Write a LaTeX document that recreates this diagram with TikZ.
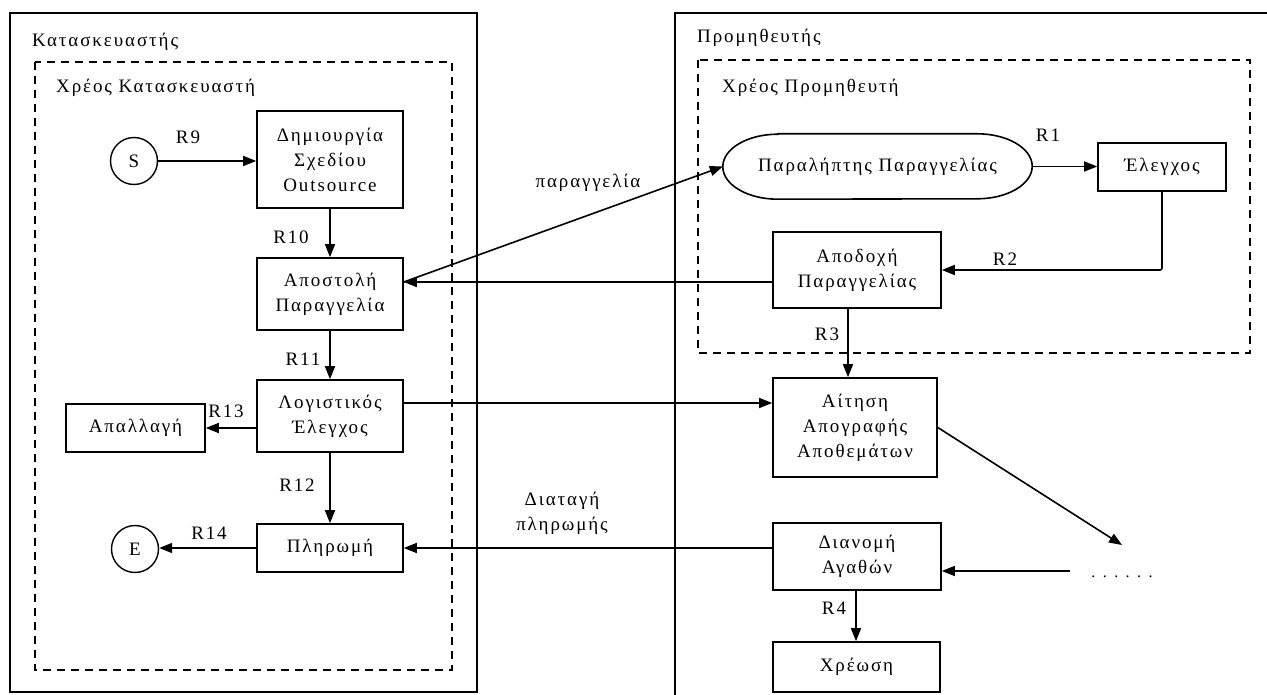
\documentclass[tikz,border=0pt]{standalone}
\usepackage{fontspec}
\setmainfont{Liberation Serif}[LetterSpace=10]
\usetikzlibrary{arrows.meta,calc}
\begin{document}
\begin{tikzpicture}[x=1pt,y=-1pt,
  font=\fontsize{19}{25}\selectfont,
  box/.style={draw,line width=1.6pt,align=center,inner sep=0pt},
  endpt/.style={draw,circle,line width=1.4pt,minimum size=47pt,inner sep=0pt},
  frame/.style={line width=2pt},
  zone/.style={line width=1.7pt,dash pattern=on 8pt off 6pt},
  arr/.style={line width=1.6pt,-{Triangle[length=13pt,width=10pt]}},
  lbl/.style={inner sep=0pt,align=center},
  ttl/.style={inner sep=0pt,anchor=west}]
\useasboundingbox (0,0) rectangle (1267,695);
\clip (0,0) rectangle (1267,695);

% actors and their debt zones
\draw[frame] (10,13) rectangle (477,692);
\draw[frame] (675,13) rectangle (1300,720);
\draw[zone] (35,62) rectangle (452,670);
\draw[zone] (698,60) rectangle (1250,353);
\node[ttl] (manuf) at (32,42) {Κατασκευαστής};
\node[ttl] (manufdebt) at (56,88) {Χρέος Κατασκευαστή};
\node[ttl] (suppl) at (697,38) {Προμηθευτής};
\node[ttl] (suppldebt) at (722,88) {Χρέος Προμηθευτή};

% manufacturer side
\node[endpt] (S) at (134,161) {S};
\node[box,minimum width=146pt,minimum height=97pt] (dem) at (330,159.5) {Δημιουργία\\Σχεδίου\\Outsource};
\node[box,minimum width=146pt,minimum height=72pt] (send) at (330,294) {Αποστολή\\Παραγγελία};
\node[box,minimum width=146pt,minimum height=72pt] (audit) at (330,416) {Λογιστικός\\Έλεγχος};
\node[box,minimum width=139pt,minimum height=48pt] (relief) at (135.5,428) {Απαλλαγή};
\node[box,minimum width=146pt,minimum height=48pt] (pay) at (330,548) {Πληρωμή};
\node[endpt] (E) at (135,549) {E};

% supplier side
\node[minimum width=309pt,minimum height=65pt,inner sep=0pt] (recv) at (877.5,166.5) {Παραλήπτης Παραγγελίας};
\draw[line width=1.6pt] ([xshift=55pt]recv.north west) -- ([xshift=-55pt]recv.north east)
  arc[start angle=90,end angle=-90,x radius=55pt,y radius=32.5pt]
  -- ([xshift=55pt]recv.south west)
  arc[start angle=270,end angle=90,x radius=55pt,y radius=32.5pt] -- cycle;
\node[box,minimum width=128pt,minimum height=48pt] (check) at (1162,167) {Έλεγχος};
\node[box,minimum width=168pt,minimum height=76pt] (accept) at (857,270) {Αποδοχή\\Παραγγελίας};
\node[box,minimum width=164pt,minimum height=99pt] (inv) at (855,427.5) {Αίτηση\\Απογραφής\\Αποθεμάτων};
\node[box,minimum width=168pt,minimum height=67pt] (dist) at (857,556.5) {Διανομή\\Αγαθών};
\node[box,minimum width=167pt,minimum height=50pt] (charge) at (856.5,667) {Χρέωση};
\node[lbl,font=\fontsize{16}{20}\selectfont] (dots) at (1122,577) {. . . . . .};

% connector end points
\coordinate (sendin) at ([yshift=12pt]send.east);
\coordinate (auditout) at ([yshift=13pt]audit.east);
\coordinate (invtip) at (1122,545);
\coordinate (dotsout) at (1070,571);

% manufacturer flow
\draw[arr] (S.east) -- (dem.west |- S.east);
\draw[arr] (dem.south) -- (send.north);
\draw[arr] (send.south) -- (audit.north);
\draw[arr] (audit.south) -- (pay.north);
\draw[arr] (audit.west |- relief.east) -- (relief.east);
\draw[arr] (pay.west) -- (E.east |- pay.west);

% supplier flow
\draw[arr] (recv.east) -- (check.west |- recv.east);
\draw[arr,rounded corners=2pt] (check.south) |- (accept.east);
\draw[arr] ([xshift=-9pt]accept.south) -- ([xshift=-9pt]accept.south |- inv.north);
\draw[arr] (inv.east) -- (invtip);
\draw[arr] (dotsout) -- (dist.east |- dotsout);
\draw[arr] ([xshift=-1pt]dist.south) -- ([xshift=-1pt]dist.south |- charge.north);

% exchanges between the two sides
\draw[arr] (sendin) -- (recv.west);
\draw[arr] (accept.west |- sendin) -- (sendin);
\draw[arr] (auditout) -- (inv.west |- auditout);
\draw[arr] (dist.west |- pay.east) -- (pay.east);

% labels
\node[lbl] (lorder) at (588,183) {παραγγελία};
\node[lbl] (lpayorder) at (562,513) {Διαταγή\\πληρωμής};
\node[lbl] (r9) at (188,137) {R9};
\node[lbl] (r10) at (291,237) {R10};
\node[lbl] (r11) at (303,359) {R11};
\node[lbl] (r13) at (226,411) {R13};
\node[lbl] (r12) at (297,485) {R12};
\node[lbl] (r14) at (209,533) {R14};
\node[lbl] (r1) at (1048,135) {R1};
\node[lbl] (r2) at (1005,259) {R2};
\node[lbl] (r3) at (827,334) {R3};
\node[lbl] (r4) at (834,608) {R4};
\end{tikzpicture}
\end{document}
